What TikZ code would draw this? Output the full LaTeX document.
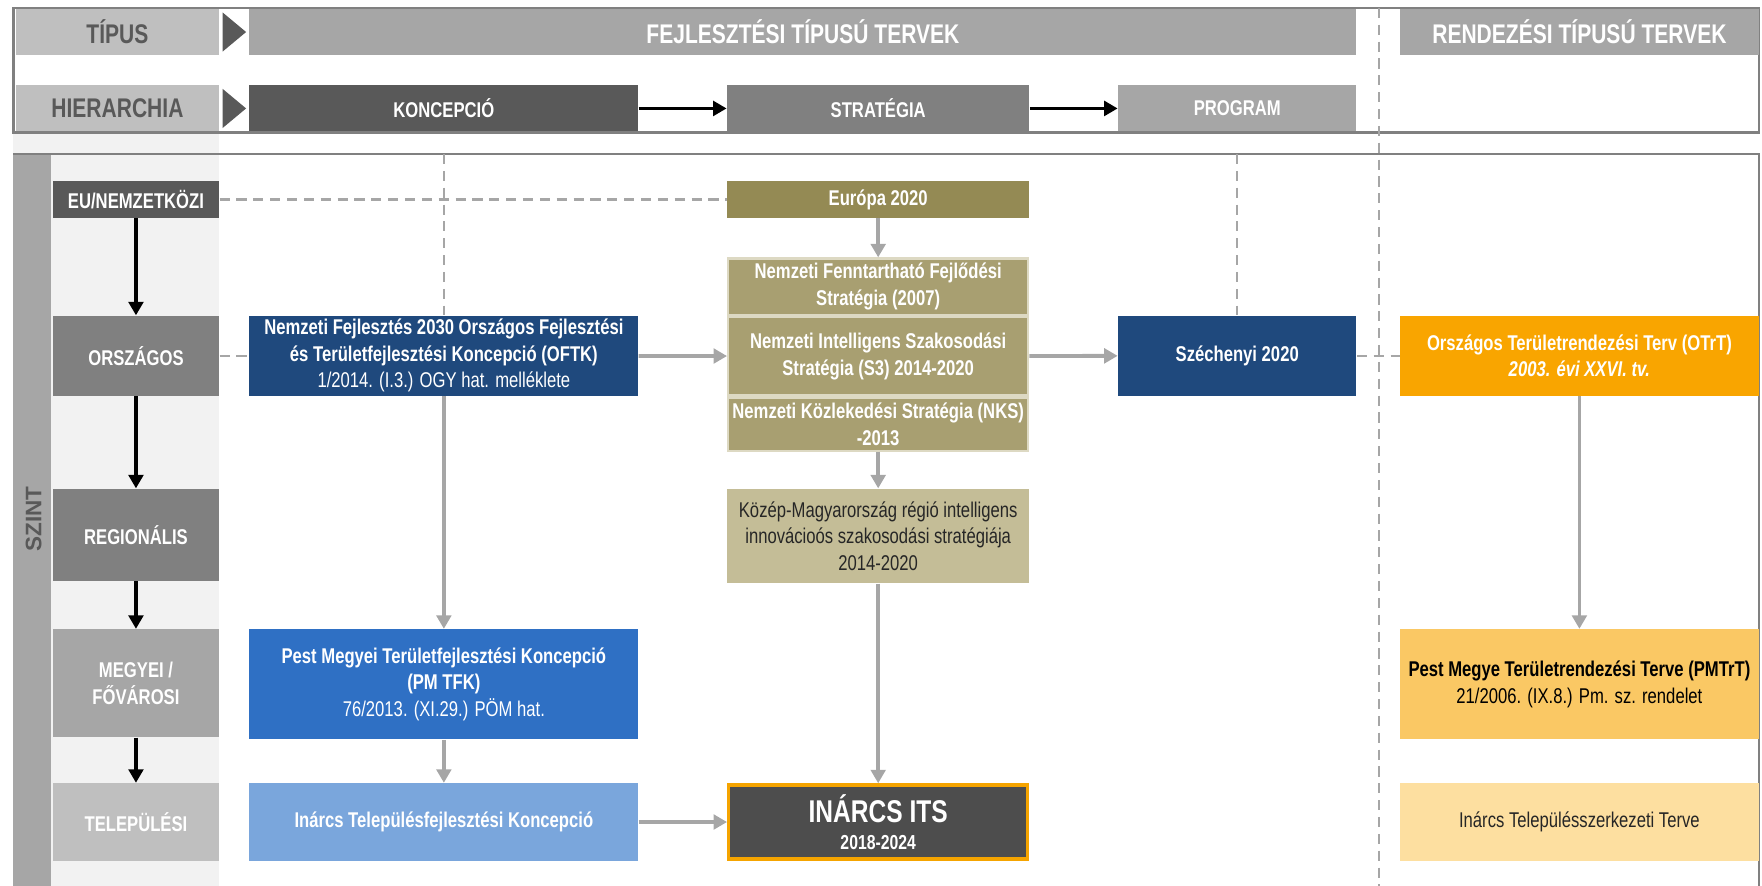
\documentclass[tikz,border=0pt]{standalone}
\usepackage{fontspec}
\setmainfont[FakeStretch=0.78]{Liberation Sans}
\newfontfamily\widefont{Liberation Sans}
\usetikzlibrary{arrows.meta}

\definecolor{dkgray}{RGB}{89,89,89}
\definecolor{framegray}{RGB}{128,128,128}
\definecolor{midgray}{RGB}{128,128,128}
\definecolor{lgray}{RGB}{166,166,166}
\definecolor{ltgray}{RGB}{191,191,191}
\definecolor{bggray}{RGB}{242,242,242}
\definecolor{navy}{RGB}{31,73,125}
\definecolor{olive}{RGB}{148,138,84}
\definecolor{khaki}{RGB}{168,159,113}
\definecolor{khakiline}{RGB}{221,217,195}
\definecolor{ltkhaki}{RGB}{196,189,151}
\definecolor{itsgray}{RGB}{77,77,77}
\definecolor{itsorange}{RGB}{245,164,0}
\definecolor{pmblue}{RGB}{47,112,196}
\definecolor{ltblue}{RGB}{122,166,220}
\definecolor{orng}{RGB}{249,165,0}
\definecolor{ltorng}{RGB}{250,200,100}
\definecolor{paleorng}{RGB}{253,223,160}

\begin{document}
\begin{tikzpicture}[x=0.5pt,y=-0.5pt,
	box/.style={inner sep=0pt,align=center,text=white,font=\fontsize{9.5}{11.75}\selectfont\bfseries},
	head/.style={box,minimum height=20.5pt,font=\fontsize{12}{14}\selectfont\bfseries},
	level/.style={box,minimum width=74pt},
	grayarr/.style={draw=lgray,line width=1.7pt,-{Triangle[length=6pt,width=6.5pt]}},
	blackarr/.style={draw=black,line width=1.6pt,-{Triangle[length=6pt,width=6.5pt]}},
	dashln/.style={draw=lgray,line width=1pt,dash pattern=on 4.5pt off 3pt}]
	\useasboundingbox (0,0) rectangle (1568,788);
%		frames
	\fill[bggray] (12,119) rectangle (195,788);
	\fill[lgray] (12,137) rectangle (45,788);
	\draw[framegray,line width=1pt] (12,7) rectangle (1565,118);
	\draw[framegray,line width=1pt] (12,137) -- (1565,137) -- (1565,788);
	\node[rotate=90,font=\widefont\fontsize{10}{12}\selectfont\bfseries,text=dkgray] (szint) at (30,462) {SZINT};
%		header
	\node[head,fill=ltgray,text=dkgray,minimum width=90.5pt] (tipus) at (104.5,28.5) {TÍPUS};
	\node[head,fill=lgray,minimum width=492.5pt] (fejl) at (714.5,28.5) {FEJLESZTÉSI TÍPUSÚ TERVEK};
	\node[head,fill=lgray,minimum width=159.5pt] (rend) at (1405.5,28.5) {RENDEZÉSI TÍPUSÚ TERVEK};
	\node[head,fill=ltgray,text=dkgray,minimum width=90.5pt] (hier) at (104.5,96.5) {HIERARCHIA};
	\node[box,fill=dkgray,minimum width=173pt,minimum height=20.5pt] (konc) at (395,96.5) {KONCEPCIÓ};
	\node[box,fill=midgray,minimum width=134.5pt,minimum height=20.5pt] (strat) at (781.5,96.5) {STRATÉGIA};
	\node[box,fill=lgray,minimum width=106pt,minimum height=20.5pt] (prog) at (1101,96.5) {PROGRAM};
	\fill[dkgray] (198,11) -- (219,28.5) -- (198,46) -- cycle;
	\fill[dkgray] (198,79) -- (219,96.5) -- (198,114) -- cycle;
	\draw[blackarr] (konc) -- (strat);
	\draw[blackarr] (strat) -- (prog);
%		levels
	\node[level,fill=dkgray,minimum height=16.5pt] (eu) at (121,177.5) {EU/NEMZETKÖZI};
	\node[level,fill=midgray,minimum height=35.5pt] (orsz) at (121,316.5) {ORSZÁGOS};
	\node[level,fill=midgray,minimum height=41pt] (reg) at (121,476) {REGIONÁLIS};
	\node[level,fill=lgray,minimum height=48pt] (megy) at (121,608) {MEGYEI /\\FŐVÁROSI};
	\node[level,fill=ltgray,minimum height=34.5pt] (tel) at (121,731.5) {TELEPÜLÉSI};
	\draw[blackarr] (eu) -- (orsz);
	\draw[blackarr] (orsz) -- (reg);
	\draw[blackarr] (reg) -- (megy);
	\draw[blackarr] (megy) -- (tel);
%		fejlesztesi
	\node[box,fill=navy,minimum width=173pt,minimum height=35.5pt] (oftk) at (395,316.5) {Nemzeti Fejlesztés 2030 Országos Fejlesztési\\és Területfejlesztési Koncepció (OFTK)\\\mdseries 1/2014. (I.3.) OGY hat. melléklete};
	\node[box,fill=olive,minimum width=134.5pt,minimum height=16.5pt] (europa) at (781.5,177.5) {Európa 2020};
	\node[box,fill=khaki,draw=khakiline,line width=1pt,minimum width=133.5pt,minimum height=25pt] (nffs) at (781.5,255) {Nemzeti Fenntartható Fejlődési\\Stratégia (2007)};
	\node[box,fill=khaki,draw=khakiline,line width=1pt,minimum width=133.5pt,minimum height=35pt] (niss) at (781.5,317) {Nemzeti Intelligens Szakosodási\\Stratégia (S3) 2014-2020};
	\node[box,fill=khaki,draw=khakiline,line width=1pt,minimum width=133.5pt,minimum height=23.5pt] (nks) at (781.5,377.5) {Nemzeti Közlekedési Stratégia (NKS)\\-2013};
	\node[box,fill=ltkhaki,text=black!85,font=\fontsize{9.5}{11.75}\selectfont,minimum width=134.5pt,minimum height=42pt] (kozep) at (781.5,477) {Közép-Magyarország régió intelligens\\innovácioós szakosodási stratégiája\\2014-2020};
	\node[box,fill=navy,minimum width=106pt,minimum height=35.5pt] (szech) at (1101,316.5) {Széchenyi 2020};
	\node[box,fill=pmblue,minimum width=173pt,minimum height=49pt] (pmtfk) at (395,609) {Pest Megyei Területfejlesztési Koncepció\\(PM TFK)\\\mdseries 76/2013. (XI.29.) PÖM hat.};
	\node[box,fill=ltblue,minimum width=173pt,minimum height=34.5pt] (intfk) at (395,731.5) {Inárcs Településfejlesztési Koncepció};
	\node[box,fill=itsgray,draw=itsorange,line width=1.5pt,minimum width=133pt,minimum height=33pt] (its) at (781.5,731.5) {\fontsize{14}{15}\selectfont INÁRCS ITS\\\fontsize{9}{13}\selectfont 2018-2024};
%		rendezesi
	\node[box,fill=orng,minimum width=159.5pt,minimum height=35.5pt] (otrt) at (1405.5,316.5) {Országos Területrendezési Terv (OTrT)\\\itshape 2003. évi XXVI. tv.};
	\node[box,fill=ltorng,text=black,minimum width=159.5pt,minimum height=49pt] (pmtrt) at (1405.5,609) {Pest Megye Területrendezési Terve (PMTrT)\\\mdseries 21/2006. (IX.8.) Pm. sz. rendelet};
	\node[box,fill=paleorng,text=black!85,font=\fontsize{9.5}{11.75}\selectfont,minimum width=159.5pt,minimum height=34.5pt] (intsz) at (1405.5,731.5) {Inárcs Településszerkezeti Terve};
%		dashed
	\coordinate (dtop) at (1227,7);
	\coordinate (dbot) at (1227,788);
	\coordinate (ktop) at (395,137);
	\coordinate (ptop) at (1101,137);
	\draw[dashln] (dtop) -- (dbot);
	\draw[dashln] (ktop) -- (oftk);
	\draw[dashln] (ptop) -- (szech);
	\draw[dashln] (eu) -- (europa);
	\draw[dashln] (orsz) -- (oftk);
	\draw[dashln] (szech) -- (otrt);
%		arrows
	\draw[grayarr] (oftk) -- (niss);
	\draw[grayarr] (niss) -- (szech);
	\draw[grayarr] (europa) -- (nffs);
	\draw[grayarr] (nks) -- (kozep);
	\draw[grayarr] (kozep) -- (its);
	\draw[grayarr] (oftk) -- (pmtfk);
	\draw[grayarr] (pmtfk) -- (intfk);
	\draw[grayarr] (intfk) -- (its);
	\draw[grayarr] (otrt) -- (pmtrt);
\end{tikzpicture}
\end{document}
